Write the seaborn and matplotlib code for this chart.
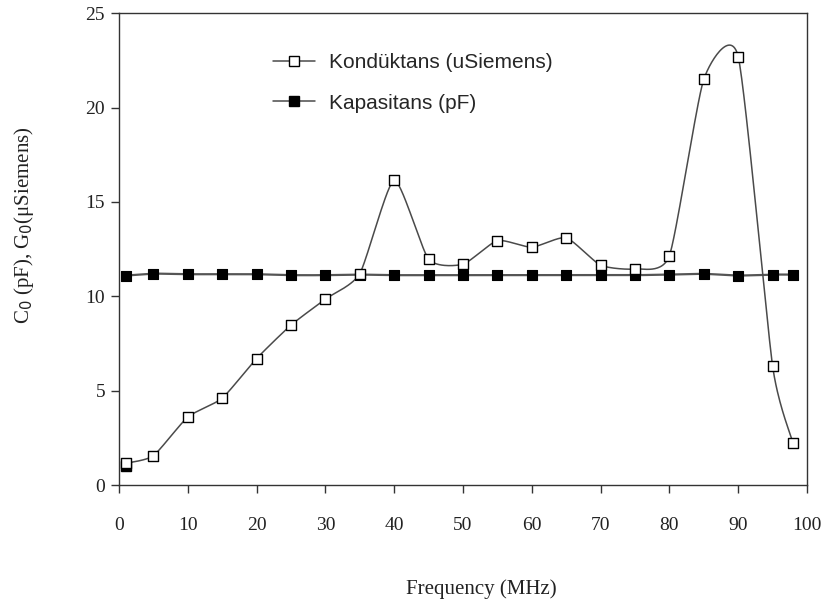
#!/usr/bin/env python3

import numpy as np
import pandas as pd
import seaborn as sns
from matplotlib import pyplot as plt
from matplotlib.lines import Line2D


# values
freq = [1, 5, 10, 15, 20, 25, 30, 35, 40, 45, 50, 55, 60, 65, 70, 75, 80, 85, 90, 95, 98]
konduktans = [1.15, 1.55, 3.6, 4.6, 6.7, 8.47, 9.85, 11.2, 16.15, 11.97, 11.7, 12.95,
              12.6, 13.1, 11.65, 11.45, 12.15, 21.5, 22.7, 6.3, 2.2]
kapasitans = [11.1, 11.2, 11.17, 11.17, 11.17, 11.12, 11.12, 11.15, 11.12, 11.12, 11.12,
              11.12, 11.12, 11.12, 11.12, 11.12, 11.15, 11.19, 11.1, 11.15, 11.15]
# stray black marker hidden under the first open square
stray_x = [1]
stray_y = [1.0]

x_ticks = list(range(0, 101, 10))
y_ticks = list(range(0, 26, 5))

LINE_COLOR = '#4a4a4a'


def smooth_curve(x, y, k=0.1, n=30):
    # Excel-like smoothed line: cubic Bezier through the data points
    x = np.asarray(x, float)
    y = np.asarray(y, float)
    px = np.concatenate([[x[0]], x, [x[-1]]])
    py = np.concatenate([[y[0]], y, [y[-1]]])
    xs, ys = [], []
    for i in range(1, len(px) - 2):
        t = np.linspace(0, 1, n, endpoint=False)
        p0x, p1x, p2x, p3x = px[i - 1:i + 3]
        p0y, p1y, p2y, p3y = py[i - 1:i + 3]
        c1x, c1y = p1x + (p2x - p0x) * k, p1y + (p2y - p0y) * k
        c2x, c2y = p2x - (p3x - p1x) * k, p2y - (p3y - p1y) * k
        bx = (1 - t) ** 3 * p1x + 3 * (1 - t) ** 2 * t * c1x + 3 * (1 - t) * t ** 2 * c2x + t ** 3 * p2x
        by = (1 - t) ** 3 * p1y + 3 * (1 - t) ** 2 * t * c1y + 3 * (1 - t) * t ** 2 * c2y + t ** 3 * p2y
        xs.extend(bx)
        ys.extend(by)
    xs.append(x[-1])
    ys.append(y[-1])
    return np.array(xs), np.array(ys)


def main():
    sns.set_theme(style='white')
    plt.rcParams['font.family'] = ['Liberation Serif', 'DejaVu Serif']

    df = pd.DataFrame({'freq': freq, 'konduktans': konduktans, 'kapasitans': kapasitans})

    fig = plt.figure(figsize=(8.26, 6.01), dpi=100)
    ax = fig.add_axes([0.144, 0.193, 0.833, 0.785])

    # smoothed lines
    sx, sy = smooth_curve(df['freq'], df['kapasitans'])
    sns.lineplot(x=sx, y=sy, ax=ax, color='#555555', linewidth=1.6,
                 sort=False, estimator=None, legend=False)
    sx, sy = smooth_curve(df['freq'], df['konduktans'])
    sns.lineplot(x=sx, y=sy, ax=ax, color=LINE_COLOR, linewidth=1.1,
                 sort=False, estimator=None, legend=False)

    ax.plot(stray_x, stray_y, linestyle='none', marker='s', markersize=6.5,
            markerfacecolor='black', markeredgecolor='black', zorder=3)
    sns.scatterplot(data=df, x='freq', y='kapasitans', ax=ax, marker='s', s=48,
                    color='black', edgecolor='black', linewidth=0.8, zorder=4, legend=False)
    sns.scatterplot(data=df, x='freq', y='konduktans', ax=ax, marker='s', s=48,
                    color='white', edgecolor='black', linewidth=1.0, zorder=5, legend=False)

    ax.set_xlim(0, 100)
    ax.set_ylim(0, 25)
    ax.set_xticks(x_ticks)
    ax.set_yticks(y_ticks)
    ax.tick_params(axis='both', which='major', direction='out', length=6, width=1,
                   color='#333333', labelsize=14, labelcolor='#222222', pad=4,
                   bottom=True, left=True)
    ax.tick_params(axis='x', pad=17)
    for side in ['left', 'bottom', 'top', 'right']:
        ax.spines[side].set_color('#333333')
        ax.spines[side].set_linewidth(1.0)
        ax.spines[side].set_visible(True)

    ax.set_xlabel('Frequency (MHz)', fontsize=15, color='#222222')
    ax.set_ylabel(r'C$_0$ (pF), G$_0$($\mathregular{\mu}$Siemens)', fontsize=15, color='#222222')
    ax.xaxis.set_label_coords(0.526, -0.2)
    ax.yaxis.set_label_coords(-0.12, 0.551)

    handles = [
        Line2D([], [], color=LINE_COLOR, linewidth=1.1, marker='s', markersize=6.5,
               markerfacecolor='white', markeredgecolor='black'),
        Line2D([], [], color=LINE_COLOR, linewidth=1.1, marker='s', markersize=6.5,
               markerfacecolor='black', markeredgecolor='black'),
    ]
    ax.legend(handles, ['Kondüktans (uSiemens)', 'Kapasitans (pF)'],
              loc='upper left', bbox_to_anchor=(0.209, 0.938), frameon=False,
              borderpad=0, handlelength=2.0, labelspacing=1.05, handletextpad=0.7,
              prop={'family': 'Liberation Sans', 'size': 15})

    fig.savefig('out.png', dpi=100, facecolor='white')


if __name__ == '__main__':
    main()
